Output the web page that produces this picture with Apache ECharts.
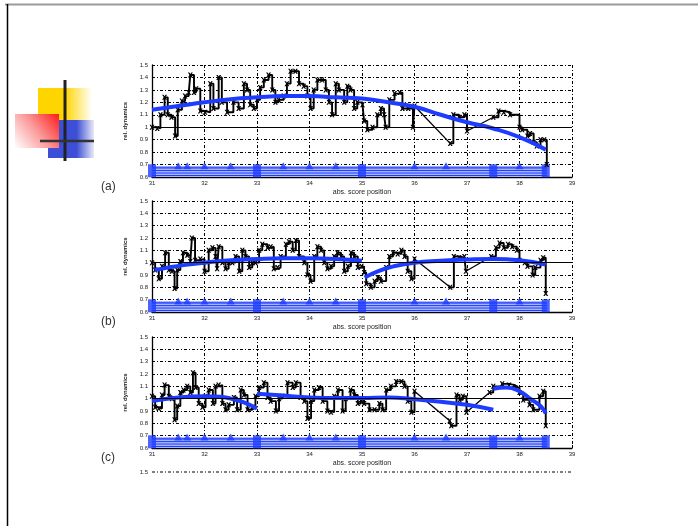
<!DOCTYPE html>
<html><head><meta charset="utf-8">
<script src="https://cdn.jsdelivr.net/npm/echarts@6/dist/echarts.min.js"></script>
<style>html,body{margin:0;padding:0;background:#fff}#c{width:698px;height:526px}</style>
</head><body><div id="c"></div>
<script>
// ---------- data ----------
const panelLabels = ['(a)', '(b)', '(c)'];
const xAxisName = 'abs. score position';
const yAxisName = 'rel. dynamics';
const xMin = 31, xMax = 39, xStep = 1;
const yMin = 0.6, yMax = 1.5, yStep = 0.1;
const partialTickLabel = '1.5';

const blackA = [[31.00,1.00],[31.10,0.99],[31.16,1.10],[31.24,1.24],[31.30,1.10],[31.37,1.08],[31.44,0.93],[31.49,1.14],[31.57,1.21],[31.63,1.25],[31.70,1.28],[31.73,1.42],[31.80,1.28],[31.84,1.31],[31.92,1.13],[32.01,1.12],[32.11,1.35],[32.17,1.15],[32.27,1.40],[32.33,1.20],[32.43,1.12],[32.55,1.20],[32.65,1.15],[32.75,1.35],[32.81,1.30],[32.87,1.18],[32.94,1.15],[33.00,1.22],[33.06,1.32],[33.13,1.38],[33.22,1.42],[33.29,1.30],[33.35,1.20],[33.41,1.22],[33.51,1.25],[33.57,1.35],[33.64,1.45],[33.73,1.45],[33.80,1.35],[33.89,1.33],[33.96,1.25],[34.02,1.15],[34.08,1.30],[34.15,1.38],[34.24,1.38],[34.31,1.30],[34.37,1.20],[34.43,1.10],[34.50,1.35],[34.56,1.30],[34.66,1.20],[34.72,1.33],[34.78,1.30],[34.85,1.15],[34.91,1.20],[35.01,1.18],[35.04,1.05],[35.10,0.98],[35.20,1.00],[35.29,1.10],[35.36,1.15],[35.42,1.10],[35.45,1.00],[35.52,1.22],[35.62,1.27],[35.72,1.28],[35.77,1.15],[35.88,1.15],[35.97,1.00],[36.00,1.17],[36.68,0.87],[36.74,1.10],[36.85,1.08],[36.95,1.10],[37.00,0.97],[37.50,1.08],[37.60,1.13],[37.70,1.12],[37.82,1.10],[38.00,1.00],[38.05,0.98],[38.15,0.93],[38.20,0.95],[38.27,0.88],[38.33,0.85],[38.40,0.90],[38.47,0.90],[38.52,0.70]];
const blackB = [[31.00,1.00],[31.06,0.94],[31.13,0.87],[31.19,0.97],[31.25,1.08],[31.32,0.94],[31.38,0.93],[31.43,0.79],[31.48,0.94],[31.54,1.01],[31.59,1.08],[31.67,1.06],[31.73,1.01],[31.76,1.20],[31.82,1.02],[31.92,1.03],[32.00,0.93],[32.08,1.10],[32.15,1.12],[32.21,1.05],[32.24,0.95],[32.27,1.13],[32.34,1.00],[32.40,0.95],[32.46,1.00],[32.53,1.00],[32.59,1.05],[32.66,0.93],[32.72,1.10],[32.78,1.05],[32.85,0.96],[32.91,1.00],[32.97,1.00],[33.04,1.10],[33.10,1.15],[33.20,1.12],[33.26,1.13],[33.32,0.95],[33.39,0.96],[33.45,1.05],[33.55,1.15],[33.61,1.17],[33.68,1.10],[33.74,1.18],[33.80,1.05],[33.90,1.00],[33.96,0.90],[34.02,0.85],[34.09,1.05],[34.15,1.13],[34.22,1.10],[34.28,1.00],[34.34,0.95],[34.41,0.97],[34.47,1.05],[34.53,1.08],[34.60,1.05],[34.66,0.93],[34.73,0.97],[34.79,1.08],[34.85,1.05],[34.92,0.96],[34.99,0.97],[35.04,0.92],[35.08,0.83],[35.17,0.80],[35.24,0.85],[35.30,0.88],[35.36,0.85],[35.46,0.96],[35.52,1.05],[35.59,1.08],[35.68,1.07],[35.75,1.10],[35.81,1.05],[35.87,0.93],[35.94,0.87],[36.00,1.03],[36.68,0.80],[36.75,1.05],[36.85,1.04],[36.95,1.05],[36.98,0.93],[37.46,1.05],[37.55,1.12],[37.62,1.16],[37.70,1.12],[37.78,1.15],[37.86,1.13],[37.95,1.10],[38.00,1.02],[38.10,1.00],[38.15,0.97],[38.25,0.90],[38.30,0.96],[38.40,1.02],[38.45,1.04],[38.50,0.75]];
const blackC = [[31.00,1.02],[31.06,0.93],[31.13,0.92],[31.19,1.03],[31.24,1.11],[31.32,1.02],[31.38,1.00],[31.43,0.83],[31.48,0.94],[31.54,1.05],[31.60,1.07],[31.67,1.10],[31.73,1.05],[31.78,1.21],[31.83,1.09],[31.89,0.96],[31.96,0.93],[32.02,1.02],[32.08,1.07],[32.16,0.96],[32.21,1.10],[32.27,1.11],[32.34,0.96],[32.40,0.91],[32.46,0.95],[32.56,1.01],[32.62,0.91],[32.69,1.07],[32.75,1.03],[32.82,0.91],[32.91,0.93],[32.97,1.02],[33.04,1.09],[33.13,1.13],[33.20,1.01],[33.26,0.98],[33.36,0.90],[33.42,1.00],[33.48,1.02],[33.58,1.13],[33.68,1.09],[33.74,1.13],[33.83,1.01],[33.90,0.98],[33.96,0.84],[34.03,0.98],[34.09,1.07],[34.18,1.09],[34.25,0.98],[34.34,0.90],[34.41,0.89],[34.47,1.02],[34.54,1.07],[34.63,0.90],[34.69,1.00],[34.78,1.07],[34.85,1.03],[34.92,0.96],[34.98,0.99],[35.04,0.96],[35.14,0.91],[35.24,0.91],[35.33,0.96],[35.39,0.91],[35.46,1.07],[35.55,1.10],[35.65,1.14],[35.75,1.14],[35.81,1.10],[35.87,0.98],[35.94,0.89],[36.00,1.06],[36.67,0.82],[36.70,0.78],[36.80,1.03],[36.86,0.99],[36.92,1.02],[36.99,0.89],[37.43,1.05],[37.50,1.10],[37.67,1.12],[37.80,1.11],[37.92,1.09],[38.00,1.05],[38.07,0.99],[38.19,0.95],[38.26,0.91],[38.38,1.02],[38.45,1.06],[38.50,0.78]];

const fitA = [[[31.0,1.14],[31.5,1.17],[32.0,1.20],[32.5,1.225],[33.0,1.24],[33.5,1.25],[34.0,1.25],[34.5,1.24],[35.0,1.23],[35.5,1.20],[36.0,1.165],[36.5,1.10],[37.0,1.04],[37.5,0.99],[38.0,0.92],[38.5,0.82]]];
const fitB = [
  [[31.05,0.94],[31.3,0.96],[31.6,0.98],[32.0,1.00],[32.5,1.02],[33.0,1.03],[33.5,1.035],[34.0,1.035],[34.5,1.03],[35.0,1.015]],
  [[35.05,0.88],[35.3,0.93],[35.6,0.97],[36.0,1.00],[36.5,1.015],[37.0,1.025],[37.5,1.03],[38.0,1.02],[38.5,0.985]]
];
const fitC = [
  [[31.0,0.98],[31.5,1.01],[32.0,1.02],[32.3,1.015],[32.5,1.00],[32.75,0.97],[33.0,0.92]],
  [[33.0,1.04],[33.5,1.025],[34.0,1.01],[34.5,1.005],[35.0,1.005],[35.5,1.01],[36.0,0.995],[36.5,0.975],[37.0,0.95],[37.5,0.91]],
  [[37.5,1.08],[37.75,1.09],[38.0,1.06],[38.2,1.00],[38.4,0.94],[38.5,0.88]]
];
const beatsSmall = [31.5, 31.67, 32.0, 32.5, 33.5, 34.0, 34.5, 36.0, 36.6, 38.0];
const beatsBig = [31.0, 33.0, 35.0, 37.5, 38.5];
const beatLevel = 0.69, barLevel = 0.65;
const bandLevels = [0.612, 0.632, 0.652, 0.672];
const bandTop = 0.68;
const bandRange = [31.0, 38.52];

// ---------- layout ----------
const blacks = [blackA, blackB, blackC];
const fits = [fitA, fitB, fitC];
const grids = [
  {left: 152, top: 65, width: 420, height: 112},
  {left: 152, top: 201, width: 420, height: 111},
  {left: 152, top: 337, width: 420, height: 111}
];
const FONT = 'Liberation Sans, Arial, sans-serif';
const BLUE = '#1e3cff';
const dash = [3, 2, 1, 2];
const X_SYMBOL = 'path://M0,0L3,0L5,3L7,0L10,0L6.5,5L10,10L7,10L5,7L3,10L0,10L3.5,5Z';

// split a measured curve into stepped runs and long straight connectors
function splitRuns(pts) {
  const runs = [], links = [];
  let cur = [pts[0]];
  for (let k = 1; k < pts.length; k++) {
    if (pts[k][0] - pts[k - 1][0] > 0.3) {
      runs.push(cur); links.push([pts[k - 1], pts[k]]); cur = [pts[k]];
    } else cur.push(pts[k]);
  }
  runs.push(cur);
  return {runs, links};
}

const option = {
  animation: false,
  backgroundColor: '#fff',
  grid: grids.map(g => Object.assign({containLabel: false}, g)),
  xAxis: grids.map((g, i) => ({
    gridIndex: i, type: 'value', min: xMin, max: xMax, interval: xStep,
    name: xAxisName, nameLocation: 'middle', nameGap: 12,
    nameTextStyle: {fontSize: 7, color: '#222', fontFamily: FONT},
    axisLine: {show: true, onZero: false, lineStyle: {color: '#000', width: 1.3}},
    axisTick: {show: true, inside: true, length: 3, lineStyle: {color: '#000'}},
    axisLabel: {fontSize: 6, color: '#222', margin: 3, fontFamily: FONT},
    splitLine: {show: true, lineStyle: {color: '#000', type: dash, width: 1}}
  })),
  yAxis: grids.map((g, i) => ({
    gridIndex: i, type: 'value', min: yMin, max: yMax, interval: yStep,
    name: yAxisName, nameLocation: 'middle', nameGap: 21, nameRotate: 90,
    nameTextStyle: {fontSize: 6, color: '#222', fontFamily: FONT, fontWeight: 'bold'},
    axisLine: {show: true, onZero: false, lineStyle: {color: '#000', width: 1.3}},
    axisTick: {show: true, inside: true, length: 3, lineStyle: {color: '#000'}},
    axisLabel: {fontSize: 6, color: '#222', margin: 4, fontFamily: FONT,
      formatter: v => String(+v.toFixed(1))},
    splitLine: {show: true, lineStyle: {color: '#000', type: dash, width: 1}}
  })),
  series: [],
  graphic: []
};

grids.forEach((g, i) => {
  // beat band fill
  option.series.push({
    type: 'line', xAxisIndex: i, yAxisIndex: i, z: 1, silent: true,
    data: [[bandRange[0], bandTop], [bandRange[1], bandTop]],
    symbol: 'none', lineStyle: {color: BLUE, width: 1},
    areaStyle: {color: '#aab8fb', origin: 'start', opacity: 1}
  });
  bandLevels.forEach(l => option.series.push({
    type: 'line', xAxisIndex: i, yAxisIndex: i, z: 1, silent: true,
    data: [[bandRange[0], l], [bandRange[1], l]],
    symbol: 'none', lineStyle: {color: BLUE, width: 1}
  }));
  option.series.push({
    type: 'scatter', xAxisIndex: i, yAxisIndex: i, z: 2, silent: true,
    data: beatsSmall.map(x => [x, beatLevel]),
    symbol: 'triangle', symbolSize: [8, 7], itemStyle: {color: BLUE}
  });
  option.series.push({
    type: 'scatter', xAxisIndex: i, yAxisIndex: i, z: 2, silent: true,
    data: beatsBig.map(x => [x, barLevel]),
    symbol: 'rect', symbolSize: [8, 13], itemStyle: {color: BLUE}
  });
  // measured curve: stepped runs + straight links
  const {runs, links} = splitRuns(blacks[i]);
  runs.forEach((run, r) => option.series.push({
    type: 'line', xAxisIndex: i, yAxisIndex: i, z: 3, silent: true,
    data: run, step: 'end', symbol: X_SYMBOL, symbolSize: 5, showSymbol: true,
    itemStyle: {color: '#000'}, lineStyle: {color: '#000', width: 1.9},
    markLine: r === 0 ? {silent: true, symbol: 'none', label: {show: false},
      lineStyle: {color: '#000', type: 'solid', width: 1},
      data: [{yAxis: 1}]} : undefined
  }));
  links.forEach(seg => option.series.push({
    type: 'line', xAxisIndex: i, yAxisIndex: i, z: 3, silent: true,
    data: seg, symbol: 'none', lineStyle: {color: '#000', width: 1.3}
  }));
  // fitted curves
  fits[i].forEach(seg => option.series.push({
    type: 'line', xAxisIndex: i, yAxisIndex: i, z: 4, silent: true,
    data: seg, smooth: true, symbol: 'none',
    lineStyle: {color: BLUE, width: 4}
  }));
  option.graphic.push({
    type: 'text', left: 101, top: g.top + g.height + 4,
    style: {text: panelLabels[i], fontSize: 12, fill: '#333', fontFamily: FONT}
  });
});

// partial fourth panel top edge (slide is cut off here)
option.graphic.push(
  {type: 'line', shape: {x1: 152, y1: 472, x2: 572, y2: 472},
   style: {stroke: '#000', lineWidth: 1, lineDash: dash}},
  {type: 'text', x: 148, y: 472,
   style: {text: partialTickLabel, fontSize: 6, fill: '#222', align: 'right', verticalAlign: 'middle', fontFamily: FONT}}
);

// slide frame
option.graphic.push(
  {type: 'line', shape: {x1: 5, y1: 4.5, x2: 698, y2: 4.5}, style: {stroke: '#9a9a9a', lineWidth: 2}},
  {type: 'line', shape: {x1: 7.5, y1: 4, x2: 7.5, y2: 526}, style: {stroke: '#000', lineWidth: 1.5}}
);

// slide logo
option.graphic.push(
  {type: 'rect', shape: {x: 38, y: 88, width: 54, height: 32},
   style: {fill: new echarts.graphic.LinearGradient(0, 0, 1, 0, [
     {offset: 0, color: '#ffd500'}, {offset: 0.5, color: '#ffd500'}, {offset: 1, color: '#ffffff'}])}},
  {type: 'rect', shape: {x: 48, y: 120, width: 46, height: 38},
   style: {fill: new echarts.graphic.LinearGradient(0, 0, 1, 0, [
     {offset: 0, color: '#3d4fd6'}, {offset: 0.62, color: '#3d4fd6'}, {offset: 1, color: '#e8eaf8'}])}},
  {type: 'rect', shape: {x: 15, y: 114, width: 44, height: 34},
   style: {fill: new echarts.graphic.LinearGradient(1, 0, 0, 1, [
     {offset: 0, color: '#ff1a1a'}, {offset: 0.5, color: '#fb9a9a'}, {offset: 1, color: '#ffffff'}])}},
  {type: 'line', shape: {x1: 65, y1: 80, x2: 65, y2: 161}, style: {stroke: '#222', lineWidth: 3}},
  {type: 'line', shape: {x1: 40, y1: 141, x2: 94, y2: 141}, style: {stroke: '#333', lineWidth: 2.5}}
);

const chart = echarts.init(document.getElementById('c'), null, {renderer: 'canvas'});
chart.setOption(option);
</script>
</body></html>
